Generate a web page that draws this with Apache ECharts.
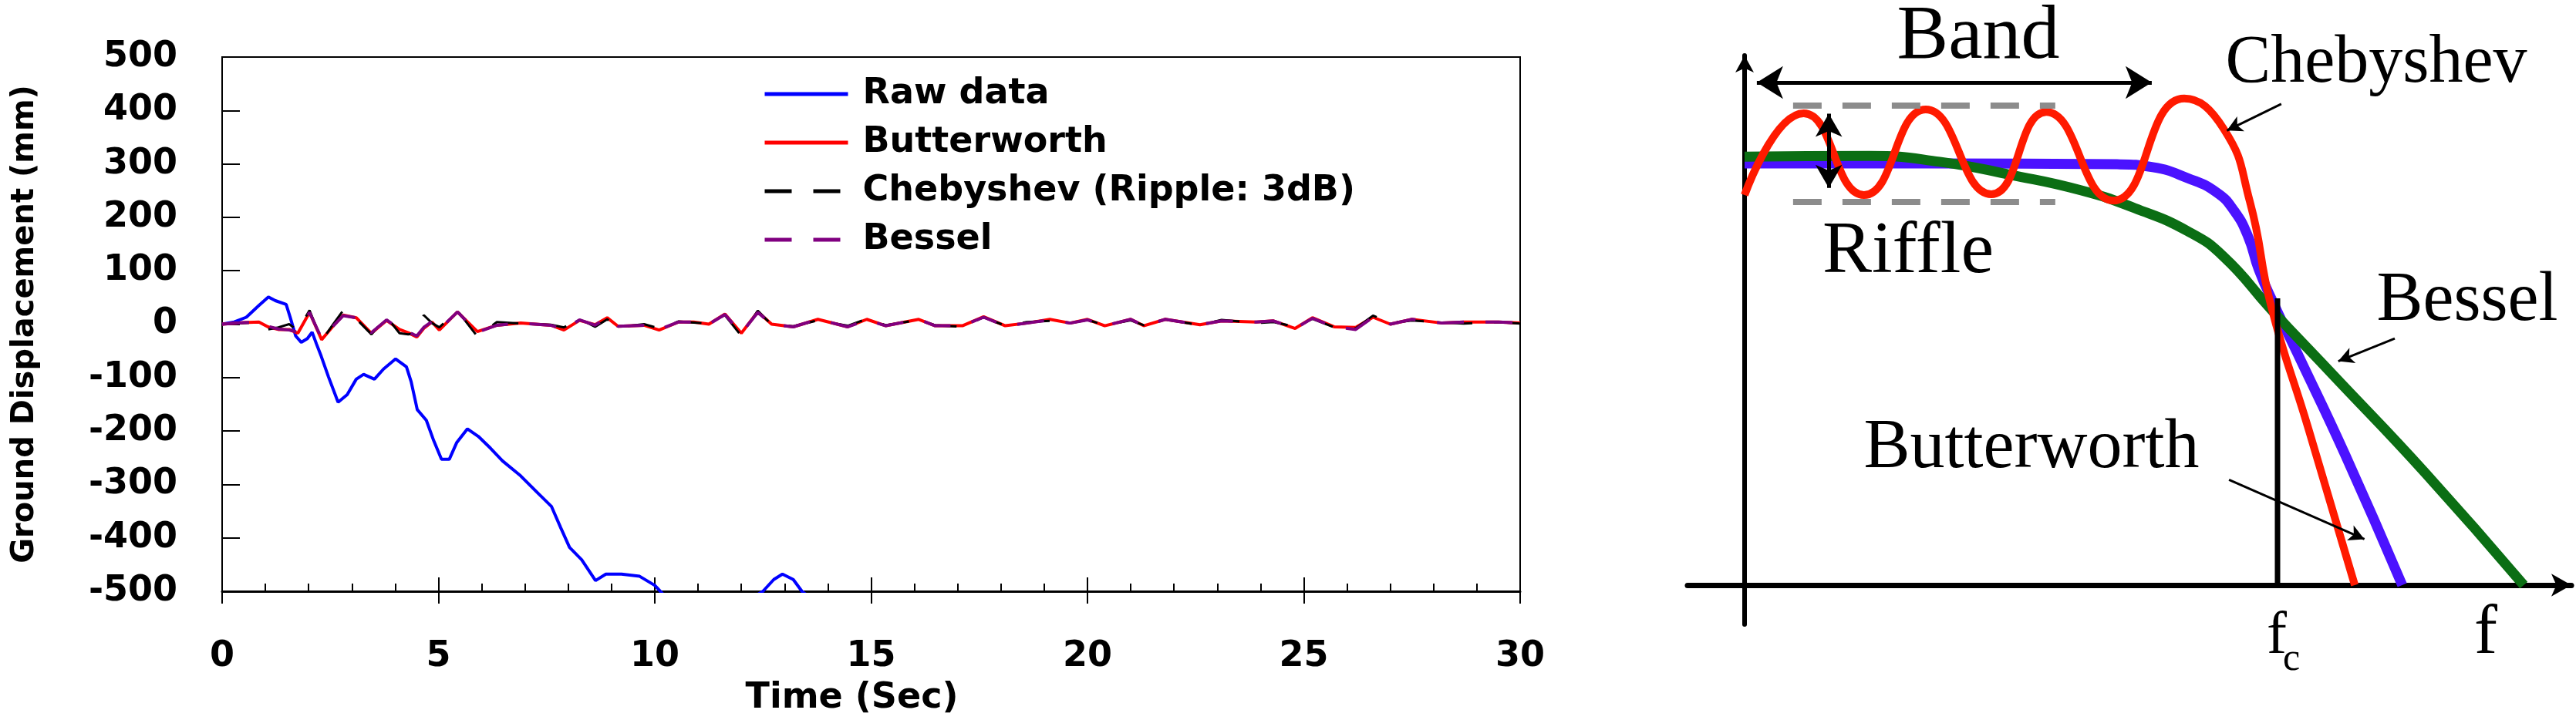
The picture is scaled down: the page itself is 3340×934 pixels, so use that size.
<!DOCTYPE html>
<html>
<head>
<meta charset="utf-8">
<script src="https://cdn.jsdelivr.net/npm/echarts@6/dist/echarts.min.js"></script>
<style>
  html, body { margin: 0; padding: 0; background: #fff; }
  #chart { width: 3340px; height: 934px; }
</style>
</head>
<body>
<div id="chart"></div>
<script>
// left panel: ground displacement time history
const rawTime = [0, 0.28, 0.56, 0.85, 1.07, 1.23, 1.48, 1.58, 1.7, 1.83,
  1.97, 2.08, 2.18, 2.29, 2.46, 2.68, 2.89, 3.1, 3.27, 3.52,
  3.73, 4.01, 4.26, 4.37, 4.51, 4.72, 4.89, 5.07, 5.25, 5.42,
  5.67, 5.92, 6.2, 6.48, 6.9, 7.32, 7.61, 7.82, 8.03, 8.31,
  8.63, 8.87, 9.23, 9.65, 10.0, 10.3, 11.0, 11.8, 12.5, 12.75,
  12.95, 13.2, 13.4, 13.8, 14.5];
const rawDisp = [0, 4, 13, 35, 51, 44, 37, 11, -22, -34,
  -27, -15, -37, -60, -99, -146, -132, -103, -94, -103,
  -84, -65, -80, -108, -160, -180, -218, -253, -253, -222,
  -196, -210, -232, -256, -284, -318, -341, -380, -418, -441,
  -480, -468, -468, -472, -489, -515, -540, -535, -500, -478,
  -468, -478, -500, -525, -560];

const filterTime = [0, 0.5, 0.85, 1.06, 1.3, 1.55, 1.75, 2.02, 2.3, 2.55, 2.8, 3.1,
  3.45, 3.8, 4.1, 4.3, 4.5, 4.66, 4.85, 5.02, 5.44, 5.9, 6.35, 6.9,
  7.6, 7.9, 8.26, 8.62, 8.9, 9.15, 9.75, 10.1, 10.55, 10.9, 11.25, 11.62,
  12.0, 12.38, 12.7, 13.2, 13.77, 14.46, 14.9, 15.34, 16.1, 16.48, 17.11, 17.6,
  18.1, 18.6, 19.13, 19.6, 20.0, 20.4, 21.0, 21.3, 21.8, 22.6, 23.1, 23.9,
  24.3, 24.8, 25.2, 25.7, 26.2, 26.6, 27.0, 27.5, 28.2, 28.7, 29.5, 30];
const butterworthDisp = [0, 3, 4, -5, -10, -10, -17, 22, -29, -5, 17, 12,
  -17, 7, -10, -16, -24, -8, 4, -11, 23, -14, -2, 2,
  -2, -11, 7, -1, 12, -4, -2, -11, 4, 4, 0, 19,
  -17, 23, 0, -5, 9, -5, 9, -3, 9, -3, -3, 14,
  -3, 2, 9, 2, 9, -3, 9, -3, 9, -1, 6, 4,
  6, -8, 12, -5, -6, 13, 0, 9, 2, 4, 4, 2];
const chebyshevDisp = [0, 2, 3, -10, -6, 0, -12, 26, -31, -2, 26, 10,
  -19, 14, -17, -19, -17, 17, 2, -6, 25, -23, 4, 1,
  -1, -6, 10, -5, 9, -6, 0, -8, 5, 3, 1, 17,
  -22, 25, -1, -4, 7, -3, 10, -2, 8, -2, -5, 13,
  -3, 4, 6, 2, 8, -2, 7, -2, 9, -2, 8, 2,
  4, -5, 10, -6, -8, 16, 2, 7, 3, 1, 4, 1];
const besselDisp = [0, 3, 4, -4, -9, -11, -15, 22, -27, -5, 16, 12,
  -16, 8, -9, -15, -22, -6, 5, -10, 23, -15, -2, 2,
  -2, -10, 8, -2, 12, -4, -2, -10, 4, 4, 0, 18,
  -17, 22, 0, -5, 9, -5, 8, -3, 9, -3, -3, 13,
  -3, 2, 8, 2, 8, -3, 9, -3, 9, -1, 6, 4,
  6, -8, 11, -5, -10, 13, 0, 9, 2, 4, 4, 2];

const legendNames = ['Raw data', 'Butterworth', 'Chebyshev (Ripple: 3dB)', 'Bessel'];

// right panel: schematic filter responses (frequency / fc, gain)
const bwFreq = [0, 0.344, 0.699, 0.766, 0.832, 0.886, 0.919, 0.945, 0.965, 0.993, 1.038, 1.127, 1.234];
const bwGain = [1.0, 1.0, 0.998, 0.991, 0.965, 0.931, 0.887, 0.826, 0.748, 0.667, 0.548, 0.309, 0];
const besselFreq = [0, 0.234, 0.366, 0.499, 0.632, 0.732, 0.832, 0.899, 0.988, 1.103, 1.278, 1.462];
const besselGain = [1.016, 1.018, 1.004, 0.973, 0.936, 0.894, 0.839, 0.779, 0.654, 0.5, 0.265, 0];
const chebyFreq = [0, 0.111, 0.224, 0.34, 0.463, 0.566, 0.692, 0.825, 0.899, 0.948, 0.988, 1.058, 1.145];
const chebyGain = [0.925, 1.119, 0.925, 1.128, 0.927, 1.122, 0.912, 1.154, 1.082, 0.91, 0.662, 0.371, 0];
const cutoffFreq = 1;
const cutoffGain = 0.68;
const rippleBounds = [1.137, 0.91];
const rippleSpan = [0.091, 0.583];
const bandSpan = [0.023, 0.764];

function pairs (xs, ys) {
  return xs.map(function (x, i) { return [x, ys[i]]; });
}

const sansBold = { fontFamily: 'DejaVu Sans', fontWeight: 'bold', color: '#000' };
const serif = 'Liberation Serif';

function serifText (text, x, y, size, align) {
  return {
    type: 'text', x: x, y: y, silent: true,
    style: { text: text, fontFamily: serif, fontSize: size, fill: '#000', align: align || 'center', verticalAlign: 'middle' }
  };
}

function arrowLine (from, to, width, size, both) {
  return [
    { coord: from, symbol: both ? 'arrow' : 'none', symbolSize: size, lineStyle: { color: '#000', width: width, type: 'solid' } },
    { coord: to, symbol: 'arrow', symbolSize: size }
  ];
}

const chart = echarts.init(document.getElementById('chart'));

const option = {
  animation: false,
  backgroundColor: '#fff',
  grid: [
    { left: 288, top: 74, width: 1683, height: 694, show: true, borderColor: '#000', borderWidth: 2 },
    { left: 2188, top: 72, width: 1146, height: 738 }
  ],
  legend: {
    data: legendNames,
    orient: 'vertical',
    left: 989,
    top: 97,
    padding: 0,
    itemWidth: 108,
    itemHeight: 20,
    itemGap: 13,
    lineStyle: { width: 5 },
    itemStyle: { opacity: 0 },
    textStyle: Object.assign({ fontSize: 46, lineHeight: 50, padding: [0, 0, 0, 14] }, sansBold)
  },
  xAxis: [
    {
      gridIndex: 0, type: 'value', min: 0, max: 30, interval: 5, position: 'bottom',
      name: 'Time (Sec)', nameLocation: 'middle', nameGap: 116,
      nameTextStyle: Object.assign({ fontSize: 46, padding: [0, 50, 0, 0] }, sansBold),
      axisLine: { onZero: false, lineStyle: { color: '#000', width: 3 } },
      axisTick: { inside: false, length: 16, lineStyle: { color: '#000', width: 2 } },
      axisLabel: Object.assign({ margin: 62, fontSize: 46 }, sansBold),
      splitLine: { show: false }
    },
    {
      gridIndex: 0, type: 'value', min: 0, max: 30, interval: 5, position: 'bottom',
      axisLine: { show: false, onZero: false },
      axisTick: { inside: true, length: 18, lineStyle: { color: '#000', width: 2 } },
      minorTick: { show: true, splitNumber: 5, length: 10, lineStyle: { color: '#000', width: 2 } },
      axisLabel: { show: false },
      splitLine: { show: false }
    },
    {
      gridIndex: 1, type: 'value', min: -0.1071, max: 1.5514,
      axisLine: { onZero: true, symbol: ['none', 'arrow'], symbolSize: [22, 26], lineStyle: { color: '#000', width: 7 } },
      axisTick: { show: false }, axisLabel: { show: false }, splitLine: { show: false }
    }
  ],
  yAxis: [
    {
      gridIndex: 0, type: 'value', min: -500, max: 500, interval: 100,
      name: 'Ground Displacement (mm)', nameLocation: 'middle', nameGap: 235,
      nameTextStyle: Object.assign({ fontSize: 40 }, sansBold),
      axisLine: { onZero: false, lineStyle: { color: '#000', width: 2 } },
      axisTick: { inside: true, length: 23, lineStyle: { color: '#000', width: 2 } },
      axisLabel: Object.assign({ margin: 58, fontSize: 46 }, sansBold),
      splitLine: { show: false }
    },
    {
      gridIndex: 1, type: 'value', min: -0.0932, max: 1.256,
      axisLine: { onZero: true, symbol: ['none', 'arrow'], symbolSize: [18, 22], lineStyle: { color: '#000', width: 6 } },
      axisTick: { show: false }, axisLabel: { show: false }, splitLine: { show: false }
    }
  ],
  series: [
    {
      name: 'Raw data', type: 'line', xAxisIndex: 0, yAxisIndex: 0, symbol: 'none',
      lineStyle: { color: '#0000ff', width: 4 }, itemStyle: { color: '#0000ff' },
      data: pairs(rawTime, rawDisp)
    },
    {
      name: 'Butterworth', type: 'line', xAxisIndex: 0, yAxisIndex: 0, symbol: 'none',
      lineStyle: { color: '#ff0000', width: 4 }, itemStyle: { color: '#ff0000' },
      data: pairs(filterTime, butterworthDisp)
    },
    {
      name: 'Chebyshev (Ripple: 3dB)', type: 'line', xAxisIndex: 0, yAxisIndex: 0, symbol: 'none',
      lineStyle: { color: '#000000', width: 3, type: [35, 28] }, itemStyle: { color: '#000000' },
      data: pairs(filterTime, chebyshevDisp)
    },
    {
      name: 'Bessel', type: 'line', xAxisIndex: 0, yAxisIndex: 0, symbol: 'none',
      lineStyle: { color: '#800080', width: 4, type: [35, 28] }, itemStyle: { color: '#800080' },
      data: pairs(filterTime, besselDisp)
    },
    {
      name: 'bwResp', type: 'line', xAxisIndex: 2, yAxisIndex: 1, symbol: 'none', smooth: true,
      lineStyle: { color: '#4b12ff', width: 13 },
      data: pairs(bwFreq, bwGain)
    },
    {
      name: 'besselResp', type: 'line', xAxisIndex: 2, yAxisIndex: 1, symbol: 'none', smooth: true,
      lineStyle: { color: '#0b6e14', width: 13 },
      data: pairs(besselFreq, besselGain)
    },
    {
      name: 'chebyResp', type: 'line', xAxisIndex: 2, yAxisIndex: 1, symbol: 'none', smooth: true,
      lineStyle: { color: '#ff1a00', width: 10 },
      data: pairs(chebyFreq, chebyGain)
    },
    {
      name: 'cutoff', type: 'line', xAxisIndex: 2, yAxisIndex: 1, symbol: 'none',
      lineStyle: { color: '#000', width: 7 },
      data: [[cutoffFreq, 0], [cutoffFreq, cutoffGain]]
    },
    {
      name: 'rippleBounds', type: 'line', xAxisIndex: 2, yAxisIndex: 1, data: [],
      markLine: {
        silent: true, animation: false, symbol: 'none', label: { show: false },
        lineStyle: { color: '#8c8c8c', width: 8, type: [37, 27] },
        data: rippleBounds.map(function (g) {
          return [{ coord: [rippleSpan[0], g] }, { coord: [rippleSpan[1], g] }];
        })
      }
    },
    {
      name: 'annotations', type: 'line', xAxisIndex: 2, yAxisIndex: 1, data: [],
      markLine: {
        silent: true, animation: false, label: { show: false },
        data: [
          arrowLine([bandSpan[0], 1.192], [bandSpan[1], 1.192], 5, [32, 34], true),
          arrowLine([0.158, 1.118], [0.158, 0.942], 5, [26, 30], true),
          arrowLine([1.007, 1.141], [0.905, 1.078], 3, [16, 20], false),
          arrowLine([1.22, 0.585], [1.114, 0.531], 3, [16, 20], false),
          arrowLine([0.909, 0.25], [1.163, 0.109], 3, [16, 20], false)
        ]
      }
    }
  ],
  graphic: [
    serifText('Band', 2565, 49, 100),
    serifText('Chebyshev', 3081, 83, 88),
    serifText('Riffle', 2474, 328, 96),
    serifText('Bessel', 3199, 391, 90),
    serifText('Butterworth', 2634, 582, 90),
    serifText('f', 2939, 827, 78, 'left'),
    serifText('c', 2960, 856, 50, 'left'),
    serifText('f', 3208, 823, 90, 'left')
  ]
};

chart.setOption(option);
</script>
</body>
</html>
